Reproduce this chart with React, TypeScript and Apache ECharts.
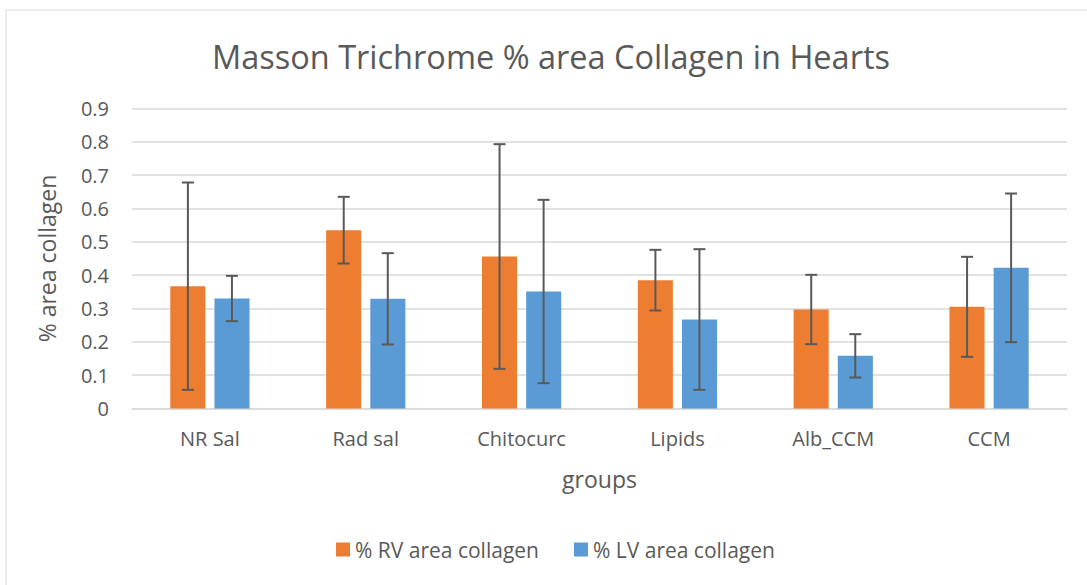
import React, { useEffect, useRef } from "react";
import * as echarts from "echarts";

const categories = ["NR Sal", "Rad sal", "Chitocurc", "Lipids", "Alb_CCM", "CCM"];
const rvValues = [0.367, 0.535, 0.456, 0.385, 0.297, 0.305];
const lvValues = [0.330, 0.329, 0.351, 0.267, 0.158, 0.422];
const rvErr = [0.311, 0.1, 0.337, 0.091, 0.104, 0.15];
const lvErr = [0.068, 0.137, 0.275, 0.211, 0.065, 0.223];
const yTicks = [0, 0.1, 0.2, 0.3, 0.4, 0.5, 0.6, 0.7, 0.8, 0.9];

const RV_NAME = "% RV area collagen";
const LV_NAME = "% LV area collagen";
const FONT = "'Open Sans', sans-serif";
const TEXT = "#595959";

function errorSeries(name: string, means: number[], errs: number[], offset: number) {
  return {
    type: "custom",
    name: name + " err",
    z: 10,
    data: means.map((m, i) => [i, m, errs[i]]),
    encode: { x: 0, y: 1 },
    renderItem: (params: any, api: any) => {
      const idx = api.value(0);
      const mean = api.value(1);
      const err = api.value(2);
      const band = api.size([1, 0])[0];
      const c = api.coord([idx, mean]);
      const x = c[0] + offset * band;
      const yTop = api.coord([idx, mean + err])[1];
      const yBot = api.coord([idx, mean - err])[1];
      const half = 6;
      const style = { stroke: "#595959", lineWidth: 2 };
      return {
        type: "group",
        children: [
          { type: "line", shape: { x1: x, y1: yTop, x2: x, y2: yBot }, style },
          { type: "line", shape: { x1: x - half, y1: yTop, x2: x + half, y2: yTop }, style },
          { type: "line", shape: { x1: x - half, y1: yBot, x2: x + half, y2: yBot }, style },
        ],
      };
    },
  };
}

export default function App() {
  const ref = useRef<HTMLDivElement>(null);
  useEffect(() => {
    if (!ref.current) return;
    const chart = echarts.init(ref.current, undefined, { renderer: "svg" });
    chart.setOption({
      animation: false,
      backgroundColor: "#ffffff",
      textStyle: { fontFamily: FONT, color: TEXT },
      graphic: [
        {
          type: "rect",
          shape: { x: 6, y: 10, width: 1200, height: 700 },
          style: { fill: "none", stroke: "#d9d9d9", lineWidth: 1 },
          silent: true,
        },
      ],
      title: {
        text: "Masson Trichrome % area Collagen in Hearts",
        left: 546,
        top: 35,
        textAlign: "center",
        textStyle: { fontFamily: FONT, fontSize: 32.5, fontWeight: "normal", color: TEXT },
      },
      legend: {
        data: [RV_NAME, LV_NAME],
        left: 331,
        top: 534,
        itemWidth: 14,
        itemHeight: 14,
        itemGap: 35,
        icon: "rect",
        textStyle: { fontFamily: FONT, fontSize: 21, color: TEXT },
      },
      grid: { left: 132, right: 20, top: 108.5, bottom: 176.5 },
      xAxis: {
        type: "category",
        data: categories,
        name: "groups",
        nameLocation: "middle",
        nameGap: 59,
        nameTextStyle: { fontFamily: FONT, fontSize: 23, color: TEXT },
        axisLine: { lineStyle: { color: "#d9d9d9", width: 1.5 } },
        axisTick: { show: false },
        axisLabel: { fontFamily: FONT, fontSize: 20, color: TEXT, margin: 20 },
      },
      yAxis: {
        type: "value",
        min: yTicks[0],
        max: yTicks[yTicks.length - 1],
        interval: 0.1,
        name: "% area collagen",
        nameLocation: "middle",
        nameGap: 74,
        nameTextStyle: { fontFamily: FONT, fontSize: 23, color: TEXT },
        axisLine: { show: false },
        axisTick: { show: false },
        splitLine: { lineStyle: { color: "#d9d9d9", width: 1.5 } },
        axisLabel: {
          fontFamily: FONT,
          fontSize: 20,
          color: TEXT,
          margin: 23,
          formatter: (v: number) => String(Number(v.toFixed(1))),
        },
      },
      series: [
        {
          type: "bar",
          name: RV_NAME,
          data: rvValues,
          barWidth: "22.5%",
          barGap: "26%",
          itemStyle: { color: "#ED7D31" },
        },
        {
          type: "bar",
          name: LV_NAME,
          data: lvValues,
          barWidth: "22.5%",
          barGap: "26%",
          itemStyle: { color: "#5B9BD5" },
        },
        errorSeries(RV_NAME, rvValues, rvErr, -0.1413),
        errorSeries(LV_NAME, lvValues, lvErr, 0.1413),
      ],
    });
    return () => chart.dispose();
  }, []);
  return (
    <div
      ref={ref}
      style={{ position: "absolute", left: 0, top: 0, width: 1087, height: 585 }}
    />
  );
}
